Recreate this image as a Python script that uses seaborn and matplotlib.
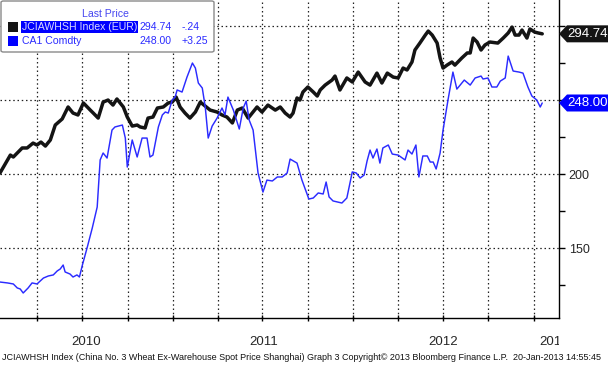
"""
plot.py - JCIAWHSH Index vs CA1 Comdty, Bloomberg style line chart.
"""
import pandas as pd
import matplotlib
matplotlib.use("Agg")
import matplotlib.pyplot as plt
import matplotlib.dates as mdates
import seaborn as sns
from matplotlib.patches import Polygon, Rectangle, FancyBboxPatch
from matplotlib.transforms import Bbox, TransformedBbox

# --- data --------------------------------------------------------------------
JCI_DATES = [
    "2010-01-15", "2010-02-05", "2010-02-11", "2010-03-01", "2010-03-11", "2010-03-23",
    "2010-03-31", "2010-04-08", "2010-04-17", "2010-04-27", "2010-05-07", "2010-05-21",
    "2010-06-02", "2010-06-12", "2010-06-22", "2010-07-03", "2010-07-17", "2010-07-23",
    "2010-08-02", "2010-08-12", "2010-08-22", "2010-09-01", "2010-09-09", "2010-09-22",
    "2010-09-30", "2010-10-10", "2010-10-20", "2010-10-26", "2010-11-05", "2010-11-11",
    "2010-11-21", "2010-11-30", "2010-12-12", "2010-12-22", "2010-12-30", "2011-01-07",
    "2011-01-15", "2011-01-25", "2011-02-04", "2011-02-15", "2011-02-25", "2011-03-07",
    "2011-03-17", "2011-03-31", "2011-04-10", "2011-04-20", "2011-05-01", "2011-05-11",
    "2011-05-21", "2011-06-02", "2011-06-20", "2011-06-30", "2011-07-12", "2011-07-27",
    "2011-08-06", "2011-08-16", "2011-08-26", "2011-09-01", "2011-09-09", "2011-09-15",
    "2011-09-21", "2011-10-01", "2011-10-12", "2011-10-20", "2011-10-26", "2011-11-05",
    "2011-11-19", "2011-11-25", "2011-12-05", "2011-12-19", "2011-12-30", "2012-01-11",
    "2012-01-25", "2012-02-04", "2012-02-18", "2012-02-28", "2012-03-10", "2012-03-22",
    "2012-04-01", "2012-04-11", "2012-04-19", "2012-04-29", "2012-05-05", "2012-05-15",
    "2012-05-26", "2012-06-01", "2012-06-09", "2012-06-19", "2012-06-25", "2012-07-01",
    "2012-07-09", "2012-07-19", "2012-07-25", "2012-08-08", "2012-08-19", "2012-08-25",
    "2012-08-31", "2012-09-08", "2012-09-16", "2012-09-24", "2012-10-04", "2012-10-20",
    "2012-10-31", "2012-11-10", "2012-11-18", "2012-11-24", "2012-12-02", "2012-12-08",
    "2012-12-18", "2012-12-24", "2013-01-03", "2013-01-10", "2013-01-18",
]
JCI_VALUES = [
    200.7, 212.8, 211.5, 217.6, 217.6, 220.9,
    219.6, 221.6, 218.9, 223.0, 233.1, 237.2,
    245.3, 241.2, 239.9, 248.0, 243.2, 241.2,
    237.8, 248.6, 250.0, 246.6, 250.7, 245.3,
    238.5, 232.4, 233.1, 231.8, 231.1, 237.8,
    238.5, 244.6, 245.3, 248.0, 248.6, 252.0,
    245.3, 241.2, 237.8, 241.9, 248.6, 245.9,
    243.2, 241.9, 239.9, 238.5, 234.5, 243.2,
    244.6, 237.8, 245.3, 241.9, 246.6, 243.2,
    245.3, 241.2, 238.5, 241.2, 251.4, 250.0,
    255.4, 258.8, 255.4, 252.7, 256.8, 260.1,
    263.5, 266.2, 256.8, 264.9, 262.2, 268.9,
    262.2, 260.1, 268.2, 261.5, 268.2, 265.5,
    264.9, 271.6, 270.3, 275.7, 283.8, 288.5,
    293.9, 296.6, 293.9, 288.5, 278.4, 271.6,
    273.6, 275.7, 273.6, 278.4, 281.8, 281.8,
    291.9, 289.2, 283.8, 287.2, 289.2, 288.5,
    291.9, 295.3, 299.3, 293.9, 293.9, 297.3,
    291.9, 298.0, 295.9, 295.3, 294.74,
]

CA1_DATES = [
    "2010-01-15", "2010-01-30", "2010-02-11", "2010-02-19", "2010-02-25", "2010-03-03",
    "2010-03-13", "2010-03-21", "2010-03-31", "2010-04-13", "2010-04-23", "2010-05-03",
    "2010-05-11", "2010-05-17", "2010-05-23", "2010-05-27", "2010-06-06", "2010-06-12",
    "2010-06-20", "2010-06-25", "2010-07-01", "2010-07-11", "2010-07-21", "2010-07-31",
    "2010-08-06", "2010-08-12", "2010-08-20", "2010-08-30", "2010-09-05", "2010-09-20",
    "2010-09-26", "2010-09-30", "2010-10-10", "2010-10-20", "2010-10-30", "2010-11-09",
    "2010-11-15", "2010-11-21", "2010-12-02", "2010-12-10", "2010-12-16", "2010-12-22",
    "2010-12-30", "2011-01-05", "2011-01-09", "2011-01-19", "2011-01-29", "2011-02-09",
    "2011-02-15", "2011-02-21", "2011-03-01", "2011-03-07", "2011-03-13", "2011-03-21",
    "2011-03-31", "2011-04-10", "2011-04-16", "2011-04-22", "2011-05-03", "2011-05-15",
    "2011-05-23", "2011-05-29", "2011-06-04", "2011-06-12", "2011-06-22", "2011-07-02",
    "2011-07-10", "2011-07-21", "2011-07-31", "2011-08-10", "2011-08-20", "2011-08-26",
    "2011-09-09", "2011-09-19", "2011-10-03", "2011-10-12", "2011-10-22", "2011-11-01",
    "2011-11-07", "2011-11-13", "2011-11-21", "2011-12-09", "2011-12-19", "2011-12-30",
    "2012-01-07", "2012-01-15", "2012-01-23", "2012-01-29", "2012-02-04", "2012-02-10",
    "2012-02-18", "2012-02-24", "2012-03-01", "2012-03-12", "2012-03-20", "2012-04-01",
    "2012-04-15", "2012-04-21", "2012-04-29", "2012-05-07", "2012-05-13", "2012-05-21",
    "2012-05-30", "2012-06-05", "2012-06-11", "2012-06-17", "2012-06-25", "2012-07-01",
    "2012-07-11", "2012-07-21", "2012-07-29", "2012-08-13", "2012-08-25", "2012-09-04",
    "2012-09-16", "2012-09-20", "2012-09-30", "2012-10-08", "2012-10-18", "2012-10-25",
    "2012-11-04", "2012-11-10", "2012-11-20", "2012-12-02", "2012-12-10", "2012-12-20",
    "2012-12-28", "2013-01-07", "2013-01-14", "2013-01-18",
]
CA1_VALUES = [
    127.0, 126.4, 125.7, 123.0, 122.3, 119.6,
    123.0, 126.4, 125.7, 129.7, 131.1, 131.8,
    134.5, 135.8, 138.5, 133.8, 132.4, 130.4,
    131.8, 130.4, 138.5, 150.7, 163.5, 177.7,
    209.5, 214.2, 210.8, 229.7, 231.8, 233.1,
    224.3, 204.7, 223.0, 211.5, 224.3, 224.3,
    211.5, 212.8, 231.8, 239.9, 241.9, 241.2,
    250.0, 252.0, 256.8, 255.4, 265.5, 275.0,
    271.6, 261.5, 258.1, 245.3, 224.3, 232.4,
    237.8, 244.6, 239.9, 252.0, 243.2, 230.4,
    244.6, 249.3, 236.5, 229.7, 200.7, 187.8,
    195.9, 195.3, 198.0, 198.0, 200.7, 210.1,
    207.4, 195.9, 183.1, 183.8, 187.2, 186.5,
    194.6, 184.5, 181.8, 180.4, 183.8, 201.4,
    200.7, 197.3, 199.3, 208.8, 216.2, 210.8,
    216.9, 207.4, 217.6, 219.6, 213.5, 212.8,
    209.5, 216.2, 213.5, 219.6, 198.0, 212.2,
    212.2, 208.1, 208.1, 203.4, 214.2, 229.7,
    250.0, 268.9, 257.4, 263.5, 260.1, 264.9,
    266.2, 264.2, 264.9, 258.8, 258.8, 262.8,
    264.9, 279.7, 269.6, 268.9, 268.2, 258.8,
    252.7, 250.0, 245.3, 248.00,
]

JCI_NAME = "JCIAWHSH Index (EUR)"
CA1_NAME = "CA1 Comdty"
JCI_CHANGE = "-.24"
CA1_CHANGE = "+3.25"
YEARS = [2010, 2011, 2012, 2013]
Y_TICKS = [150, 200, 250, 300]
Y_TICK_LABELS = ["150", "200", "", ""]
FOOTER = ("JCIAWHSH Index (China No. 3 Wheat Ex-Warehouse Spot Price Shanghai) "
          "Graph 3 Copyright\u00a9 2013 Bloomberg Finance L.P.  20-Jan-2013 14:55:45")

BLACK = "#141414"
BLUE = "#0000ff"
LINE_BLUE = "#2b2bff"

W, H = 608, 367

jci = pd.DataFrame({"date": pd.to_datetime(JCI_DATES), "price": JCI_VALUES})
ca1 = pd.DataFrame({"date": pd.to_datetime(CA1_DATES), "price": CA1_VALUES})

sns.set_style("white")
plt.rcParams["font.family"] = ["Liberation Sans", "DejaVu Sans"]

fig = plt.figure(figsize=(W / 100, H / 100), dpi=100)
ax = fig.add_axes([0, 1 - 318 / H, 559 / W, 318 / H])


def fx(px):
    return px / W


def fy(py):
    return 1 - py / H


sns.lineplot(data=jci, x="date", y="price", color=BLACK, linewidth=2.5, ax=ax, zorder=3)
sns.lineplot(data=ca1, x="date", y="price", color=LINE_BLUE, linewidth=1.05, ax=ax, zorder=4)

x0, x1 = pd.Timestamp("2010-01-15"), pd.Timestamp("2013-02-21")
ax.set_xlim(x0, x1)
ax.set_ylim(102.7, 317.6)
ax.set_xlabel("")
ax.set_ylabel("")

# quarter grid + ticks
ax.xaxis.set_major_locator(mdates.MonthLocator(bymonth=[1, 4, 7, 10]))
ax.xaxis.set_major_formatter(plt.NullFormatter())
ax.tick_params(axis="x", which="major", direction="inout", length=5, width=1, color="black", bottom=True)

# year labels centred in the visible part of each year
centers = []
for yr in YEARS:
    a = max(pd.Timestamp(f"{yr}-01-01"), x0)
    b = min(pd.Timestamp(f"{yr + 1}-01-01"), x1)
    centers.append(a + (b - a) / 2)
centers[-1] = centers[-1] + pd.Timedelta(days=16)
ax.set_xticks(centers, minor=True)
ax.set_xticklabels([str(y) for y in YEARS], minor=True, fontsize=9.5)
ax.tick_params(axis="x", which="minor", length=0, pad=13)
clip = TransformedBbox(Bbox([[0, 0], [559 / W, 1]]), fig.transFigure)
for lbl in ax.get_xticklabels(minor=True):
    lbl.set_clip_box(clip)
    lbl.set_clip_on(True)

ax.yaxis.tick_right()
ax.set_yticks(Y_TICKS)
ax.set_yticklabels(Y_TICK_LABELS, fontsize=9)
ax.set_yticks([125, 175, 225, 275], minor=True)
ax.tick_params(axis="y", which="both", direction="out", length=4, width=1, color="black", right=True, pad=3)

ax.grid(True, which="major", color="#222222", linestyle=(0, (1.2, 2.2)), linewidth=0.9)
for side in ["left", "top"]:
    ax.spines[side].set_visible(False)
for side in ["right", "bottom"]:
    ax.spines[side].set_visible(True)
    ax.spines[side].set_color("black")
    ax.spines[side].set_linewidth(1.0)

# price tags on the right
inv = fig.transFigure.inverted()
for val, face in [(JCI_VALUES[-1], BLACK), (CA1_VALUES[-1], BLUE)]:
    yc = inv.transform(ax.transData.transform((0, val)))[1]
    hh = 8.5 / H
    pts = [(fx(559), yc), (fx(567), yc + hh), (1.0, yc + hh), (1.0, yc - hh), (fx(567), yc - hh)]
    fig.add_artist(Polygon(pts, closed=True, facecolor=face, edgecolor="none", zorder=5))
    fig.text(fx(567), yc, f"{val:.2f}", color="white", fontsize=9.5, va="center", ha="left", zorder=6)

# legend box top-left
fs = 7.6
fig.add_artist(FancyBboxPatch((fx(1), fy(52)), 213 / W, 51 / H,
                              boxstyle="round,pad=0,rounding_size=0.004",
                              facecolor="white", edgecolor="#8a8a8a", linewidth=1.0, zorder=5))
fig.text(fx(82), fy(14), "Last Price", color="#4646f0", fontsize=fs, va="center", zorder=6)
fig.add_artist(Rectangle((fx(8), fy(32)), 10 / W, 10 / H, facecolor=BLACK, edgecolor="none", zorder=6))
fig.add_artist(Rectangle((fx(8), fy(46)), 10 / W, 10 / H, facecolor=BLUE, edgecolor="none", zorder=6))
fig.text(fx(22), fy(27), JCI_NAME, color="#d8d8ff", fontsize=fs, va="center", zorder=6,
         bbox=dict(facecolor=BLUE, edgecolor="none", pad=0.6))
fig.text(fx(22), fy(41), CA1_NAME, color=LINE_BLUE, fontsize=fs, va="center", zorder=6)
fig.text(fx(172), fy(27), f"{JCI_VALUES[-1]:.2f}", color=LINE_BLUE, fontsize=fs, va="center", ha="right", zorder=6)
fig.text(fx(172), fy(41), f"{CA1_VALUES[-1]:.2f}", color=LINE_BLUE, fontsize=fs, va="center", ha="right", zorder=6)
fig.text(fx(182), fy(27), JCI_CHANGE, color=LINE_BLUE, fontsize=fs, va="center", zorder=6)
fig.text(fx(182), fy(41), CA1_CHANGE, color=LINE_BLUE, fontsize=fs, va="center", zorder=6)

fig.text(fx(2), fy(357), FOOTER, fontsize=6.5, color="#111111", va="center", ha="left")

fig.savefig("out.png", dpi=100)
